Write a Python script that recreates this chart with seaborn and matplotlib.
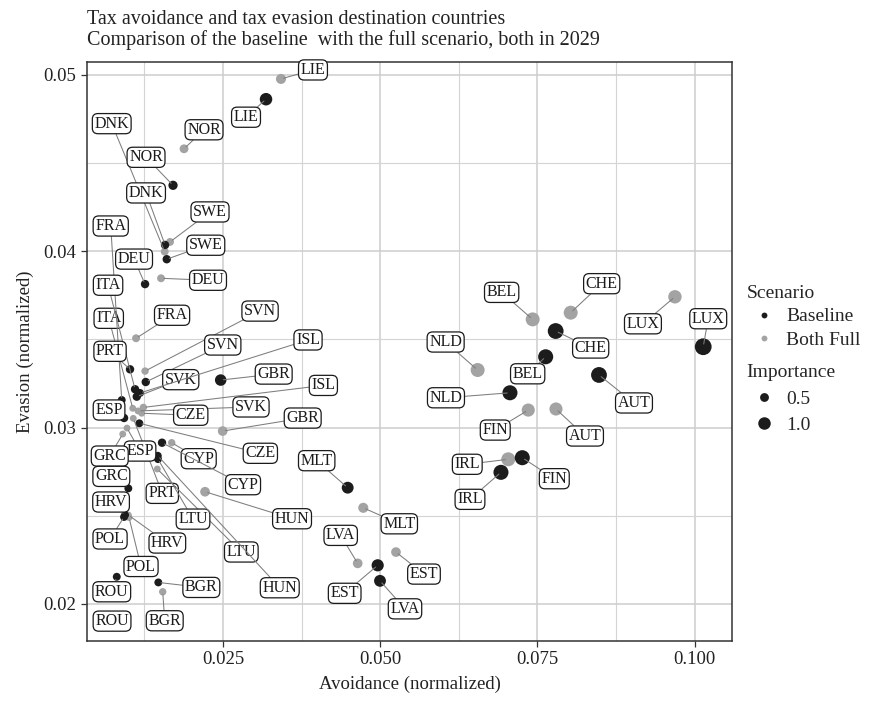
import numpy as np
import pandas as pd
import matplotlib
matplotlib.use("Agg")
import matplotlib.pyplot as plt
import seaborn as sns
from matplotlib.lines import Line2D
from matplotlib.ticker import MultipleLocator, FormatStrFormatter

sns.set_style("ticks")
plt.rcParams['font.family'] = ['Liberation Serif', 'DejaVu Serif']

# ---- data ----
countries = ['LIE', 'NOR', 'DNK', 'SWE', 'DEU', 'FRA', 'ITA', 'PRT', 'SVN', 'SVK',
             'ISL', 'ESP', 'CZE', 'GRC', 'CYP', 'LTU', 'HUN', 'HRV', 'POL', 'ROU',
             'BGR', 'GBR', 'MLT', 'LVA', 'EST', 'NLD', 'BEL', 'CHE', 'LUX', 'AUT',
             'FIN', 'IRL']

base_avoid = [0.03184, 0.01705, 0.01578, 0.01605, 0.01260, 0.00889, 0.01101, 0.01021, 0.01271, 0.01128,
              0.01180, 0.00926, 0.01169, 0.00994, 0.01530, 0.01466, 0.01462, 0.00942, 0.00926, 0.00810,
              0.01471, 0.02463, 0.04483, 0.04997, 0.04960, 0.07064, 0.07632, 0.07791, 0.10138, 0.08480,
              0.07260, 0.06921]
base_evade = [0.04861, 0.04373, 0.04035, 0.03954, 0.03813, 0.03156, 0.03217, 0.03330, 0.03258, 0.03175,
              0.03196, 0.03054, 0.03024, 0.02655, 0.02914, 0.02821, 0.02840, 0.02504, 0.02493, 0.02154,
              0.02122, 0.03269, 0.02659, 0.02131, 0.02219, 0.03197, 0.03401, 0.03547, 0.03458, 0.03298,
              0.02829, 0.02746]
base_imp = [1.0, 0.55, 0.45, 0.45, 0.45, 0.4, 0.45, 0.45, 0.45, 0.45,
            0.4, 0.45, 0.4, 0.4, 0.45, 0.4, 0.4, 0.4, 0.4, 0.4,
            0.4, 0.85, 0.9, 0.9, 0.95, 1.45, 1.45, 1.6, 1.8, 1.6,
            1.45, 1.45]

full_avoid = [0.03422, 0.01880, 0.01573, 0.01657, 0.01514, 0.01117, 0.01064, 0.01073, 0.01260, 0.01148,
              0.01233, 0.00973, 0.01207, 0.00905, 0.01684, 0.01455, 0.02214, 0.00994, 0.01005, 0.00751,
              0.01541, 0.02495, 0.04731, 0.04642, 0.05251, 0.06550, 0.07425, 0.08030, 0.09688, 0.07796,
              0.07355, 0.07037]
full_evade = [0.04976, 0.04580, 0.03997, 0.04052, 0.03846, 0.03506, 0.03109, 0.03052, 0.03320, 0.03094,
              0.03114, 0.02997, 0.03081, 0.02963, 0.02914, 0.02765, 0.02636, 0.02504, 0.02490, 0.01931,
              0.02069, 0.02980, 0.02545, 0.02230, 0.02294, 0.03326, 0.03613, 0.03651, 0.03741, 0.03105,
              0.03099, 0.02820]
full_imp = [0.65, 0.5, 0.4, 0.4, 0.4, 0.4, 0.3, 0.3, 0.35, 0.3,
            0.35, 0.3, 0.3, 0.3, 0.35, 0.3, 0.6, 0.3, 0.3, 0.3,
            0.35, 0.6, 0.65, 0.6, 0.6, 1.25, 1.25, 1.25, 1.15, 1.1,
            1.1, 1.25]

# ---- label placement (pixel offsets from the point, screen y down) ----
base_offsets = [(-20, 18), (-27, -28), (-19, -52), (39, -14), (-11, -25), (-11, -174), (-27, -104),
                (-20, -18), (77, -37), (44, -17), (168, -53), (-15, -8), (121, 30), (-17, -12),
                (81, 42), (35, 60), (122, 132), (-14, -13), (-14, 22), (-5, 15), (43, 5), (53, -6),
                (-31, -27), (25, 28), (-33, 28), (-64, 5), (-18, 17), (35, 17), (5, -28), (35, 28),
                (32, 21), (-31, 27)]
full_offsets = [(32, -9), (20, -19), (-53, -128), (40, -30), (47, 2), (36, -23), (-24, -90),
                (29, 75), (115, -60), (113, -4), (180, -22), (13, 23), (49, 2), (-13, 22),
                (27, 16), (84, 83), (87, 27), (39, 28), (12, 49), (-1, 5), (2, 29), (80, -13),
                (36, 16), (-17, -28), (28, 22), (-32, -28), (-31, -27), (31, -29), (-32, 27), (29, 27),
                (-33, 20), (-41, 5)]

full = pd.DataFrame({'country': countries, 'avoidance': full_avoid, 'evasion': full_evade,
                     'importance': full_imp, 'scenario': 'Both Full'})
base = pd.DataFrame({'country': countries, 'avoidance': base_avoid, 'evasion': base_evade,
                     'importance': base_imp, 'scenario': 'Baseline'})
df = pd.concat([full, base], ignore_index=True)
offsets = full_offsets + base_offsets

colors = {'Baseline': '#1c1c1c', 'Both Full': '#a3a3a3'}

fig = plt.figure(figsize=(8.72, 7.02), dpi=100)
ax = fig.add_axes([0.0998, 0.0869, 0.7396, 0.8248])

sns.scatterplot(data=df, x='avoidance', y='evasion', hue='scenario', palette=colors,
                size='importance', sizes=(0, 162), size_norm=(0, 2),
                linewidth=0, legend=False, ax=ax, zorder=2)

for (_, row), (dx, dy) in zip(df.iterrows(), offsets):
    ax.annotate(row['country'], xy=(row['avoidance'], row['evasion']),
                xytext=(dx, -dy), textcoords='offset pixels',
                ha='center', va='center', fontsize=11.5, color='#1a1a1a',
                bbox=dict(boxstyle='round,pad=0.13,rounding_size=0.35', fc='white',
                          ec='#1a1a1a', lw=0.9),
                arrowprops=dict(arrowstyle='-', color='#7d7d7d', lw=0.75,
                                shrinkA=0, shrinkB=2),
                zorder=5)

ax.set_xlim(0.00337, 0.10595)
ax.set_ylim(0.0179, 0.05072)
ax.xaxis.set_major_locator(MultipleLocator(0.025))
ax.xaxis.set_minor_locator(MultipleLocator(0.0125))
ax.yaxis.set_major_locator(MultipleLocator(0.01))
ax.yaxis.set_minor_locator(MultipleLocator(0.005))
ax.xaxis.set_major_formatter(FormatStrFormatter('%.3f'))
ax.yaxis.set_major_formatter(FormatStrFormatter('%.2f'))
ax.grid(which='major', color='#cdcdcd', lw=1.1)
ax.grid(which='minor', color='#d4d4d4', lw=0.8)
ax.set_axisbelow(True)
ax.tick_params(which='major', direction='out', length=4, width=0.9, color='#333333',
               labelsize=13.5, labelcolor='#222222')
ax.tick_params(which='minor', length=0)
for sp in ax.spines.values():
    sp.set_color('#333333')
    sp.set_linewidth(1.1)

ax.set_xlabel('Avoidance (normalized)', fontsize=13.5, color='#222222', labelpad=5)
ax.set_ylabel('Evasion (normalized)', fontsize=13.5, color='#222222', labelpad=7)
ax.set_title('Tax avoidance and tax evasion destination countries\n'
             'Comparison of the baseline  with the full scenario, both in 2029',
             loc='left', fontsize=14.5, color='#222222', pad=12, linespacing=1.1)

# legends
h1 = [Line2D([], [], ls='', marker='o', ms=4.2, mew=0, color=colors[k]) for k in ['Baseline', 'Both Full']]
leg1 = fig.legend(h1, ['Baseline', 'Both Full'], title='Scenario', loc='upper left',
                  bbox_to_anchor=(0.856, 0.594), frameon=False, fontsize=14,
                  title_fontsize=14, handlelength=1.8, handletextpad=0.25,
                  labelspacing=0.3, borderpad=0, borderaxespad=0)
leg1._legend_box.align = 'left'
h2 = [Line2D([], [], ls='', marker='o', ms=np.sqrt(81 * v), mew=0, color=colors['Baseline'])
      for v in [0.5, 1.0]]
leg2 = fig.legend(h2, ['0.5', '1.0'], title='Importance', loc='upper left',
                  bbox_to_anchor=(0.856, 0.481), frameon=False, fontsize=14,
                  title_fontsize=14, handlelength=1.8, handletextpad=0.25,
                  labelspacing=0.45, borderpad=0, borderaxespad=0)
leg2._legend_box.align = 'left'

fig.savefig('out.png', dpi=100)
